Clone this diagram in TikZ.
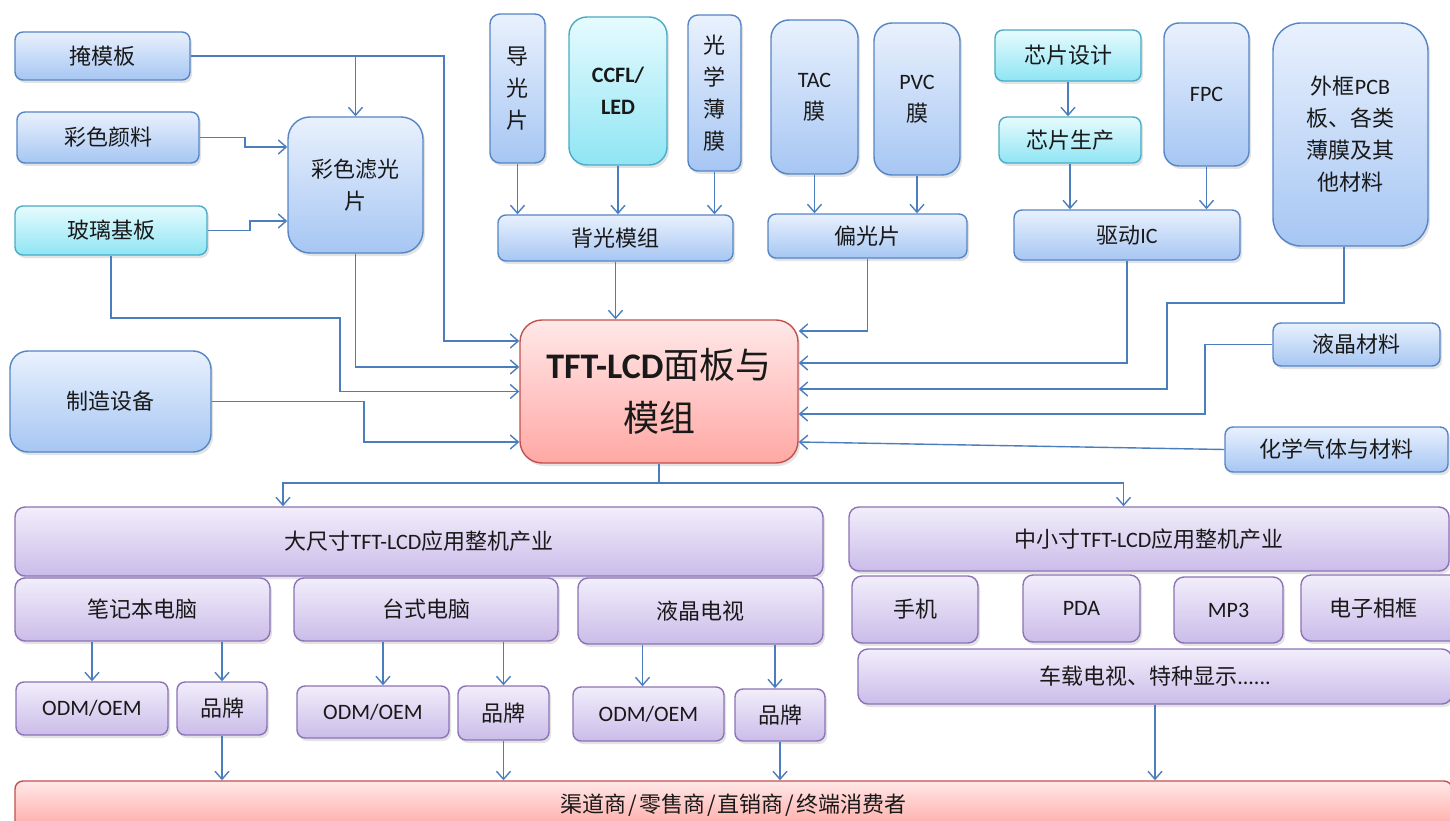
\documentclass[tikz,border=0pt]{standalone}
\usepackage{fontspec}
\setmainfont{Carlito}
\newfontfamily\cjk{Noto Sans CJK SC}
\newfontfamily\lat{Carlito}
\usetikzlibrary{arrows.meta,shadows}
\definecolor{btop}{HTML}{E9F1FD}
\definecolor{bbot}{HTML}{A6C6F3}
\definecolor{bbord}{HTML}{5585C5}
\definecolor{ctop}{HTML}{E6FBFE}
\definecolor{cbot}{HTML}{8FE5F4}
\definecolor{cbord}{HTML}{4AABC5}
\definecolor{ptop}{HTML}{F2EEFB}
\definecolor{pbot}{HTML}{CABCE9}
\definecolor{pbord}{HTML}{8B73B5}
\definecolor{rtop}{HTML}{FFE8E8}
\definecolor{rbot}{HTML}{FFA8A4}
\definecolor{rbord}{HTML}{C4504D}
\definecolor{arrc}{HTML}{4A7EBF}
\newcommand\mkbox[7]{%
  \pgfmathsetmacro\mybxc{(#3+#5)/2}%
  \pgfmathsetmacro\mybyc{(#4+#6)/2}%
  \pgfmathsetmacro\mybw{#5-#3}%
  \pgfmathsetmacro\mybh{#6-#4}%
  \node[#1, minimum width=\mybw pt, minimum height=\mybh pt] (#2) at (\mybxc,\mybyc) {#7};}
\newcommand\mysl{\hspace{2pt}/\hspace{2pt}}
\tikzset{
  boxbase/.style={rounded corners=8pt, line width=1.4pt, inner sep=0pt, align=center,
    text=black!90, font=\cjk\fontsize{22}{32}\selectfont,
    drop shadow={opacity=0.22, shadow xshift=2pt, shadow yshift=-3pt}},
  bluebox/.style={boxbase, draw=bbord, top color=btop, bottom color=bbot},
  cyanbox/.style={boxbase, draw=cbord, top color=ctop, bottom color=cbot},
  purplebox/.style={boxbase, draw=pbord, top color=ptop, bottom color=pbot},
  redbox/.style={boxbase, draw=rbord, top color=rtop, bottom color=rbot},
  conn/.style={draw=arrc, line width=1.4pt},
  arr/.style={conn, -{Straight Barb[length=8pt,width=14pt]}},
}
\begin{document}
\begin{tikzpicture}[x=1pt,y=-1pt]
\fill[white] (0,0) rectangle (1450,821);
\useasboundingbox (0,0) rectangle (1450,821);
% ---------- top left
\mkbox{bluebox}{mask}{15}{32}{190}{80}{掩模板}
\mkbox{bluebox}{pig}{17}{112}{199}{163}{彩色颜料}
\mkbox{cyanbox}{glass}{15}{206}{207}{255}{玻璃基板}
\mkbox{bluebox,rounded corners=22pt}{cf}{288}{117}{423}{253}{彩色滤光\\片}
\mkbox{bluebox,rounded corners=18pt}{equip}{10}{351}{211}{452}{制造设备}
% ---------- top middle
\mkbox{bluebox,rounded corners=10pt}{lg}{490}{14}{545}{163}{导\\光\\片}
\mkbox{cyanbox,rounded corners=18pt}{ccfl}{569}{17}{667}{165}{{\lat\bfseries CCFL/}\\{\lat\bfseries LED}}
\mkbox{bluebox,rounded corners=10pt}{of}{688}{15}{741}{171}{光\\学\\薄\\膜}
\mkbox{bluebox,rounded corners=18pt}{tac}{771}{20}{858}{174}{{\lat TAC}\\膜}
\mkbox{bluebox,rounded corners=18pt}{pvc}{874}{23}{960}{175}{{\lat PVC}\\膜}
\mkbox{bluebox}{bl}{498}{215}{733}{261}{背光模组}
\mkbox{bluebox}{pol}{768}{214}{967}{258}{偏光片}
% ---------- top right
\mkbox{cyanbox}{cd}{995}{30}{1141}{81}{芯片设计}
\mkbox{cyanbox}{cp}{999}{117}{1141}{163}{芯片生产}
\mkbox{bluebox,rounded corners=15pt}{fpc}{1164}{23}{1249}{166}{{\lat FPC}}
\mkbox{bluebox}{ic}{1014}{210}{1240}{260}{驱动{\lat IC}}
\mkbox{bluebox,rounded corners=28pt}{frame}{1273}{23}{1428}{246}{外框{\lat PCB}\\板、各类\\薄膜及其\\他材料}
\mkbox{bluebox}{lc}{1273}{323}{1440}{366}{液晶材料}
\mkbox{bluebox}{chem}{1225}{427}{1448}{472}{化学气体与材料}
% ---------- centre
\mkbox{redbox,rounded corners=22pt,font=\cjk\fontsize{36}{53}\selectfont}{tft}{520}{320}{798}{463}{{\lat\bfseries TFT-LCD}面板与\\模组}
% ---------- lower left
\mkbox{purplebox,rounded corners=10pt}{big}{15}{507}{823}{576}{大尺寸{\lat TFT-LCD}应用整机产业}
\mkbox{purplebox,rounded corners=10pt}{nb}{15}{578}{270}{641}{笔记本电脑}
\mkbox{purplebox,rounded corners=10pt}{dt}{294}{578}{558}{641}{台式电脑}
\mkbox{purplebox,rounded corners=10pt}{tv}{578}{578}{823}{644}{液晶电视}
\mkbox{purplebox}{odm1}{16}{682}{168}{735}{{\lat ODM/OEM}}
\mkbox{purplebox}{br1}{177}{682}{267}{735}{品牌}
\mkbox{purplebox}{odm2}{297}{686}{449}{738}{{\lat ODM/OEM}}
\mkbox{purplebox}{br2}{458}{686}{549}{740}{品牌}
\mkbox{purplebox}{odm3}{573}{687}{724}{741}{{\lat ODM/OEM}}
\mkbox{purplebox}{br3}{735}{689}{825}{741}{品牌}
% ---------- lower right
\mkbox{purplebox,rounded corners=10pt}{small}{849}{507}{1449}{571}{中小寸{\lat TFT-LCD}应用整机产业}
\mkbox{purplebox,rounded corners=10pt}{phone}{852}{576}{978}{643}{手机}
\mkbox{purplebox,rounded corners=10pt}{pda}{1023}{575}{1140}{642}{{\lat PDA}}
\mkbox{purplebox,rounded corners=10pt}{mp}{1174}{577}{1283}{643}{{\lat MP3}}
\mkbox{purplebox,rounded corners=10pt}{photo}{1301}{575}{1470}{641}{\hspace*{-24pt}电子相框}
\mkbox{purplebox,rounded corners=10pt}{car}{858}{649}{1452}{704}{车载电视、特种显示{\lat ......}}
% ---------- bottom
\mkbox{redbox}{chan}{15}{781}{1452}{830}{\raisebox{-8pt}{渠道商\mysl 零售商\mysl 直销商\mysl 终端消费者}}
% ---------- connectors, left side
\draw[arr] (mask.east -| cf.north) -- (cf.north);
\draw[arr] (mask.east) -- (444,56) -- (444,341) -- ([yshift=50.5pt]tft.west);
\draw[arr] (pig.east) -- (245,137.5) -- (245,147) -- ([yshift=38pt]cf.west);
\draw[arr] (glass.east) -- (250,230.5) -- (250,221) -- ([yshift=-36pt]cf.west);
\draw[arr] (glass.south) -- (111,318) -- (340,318) -- (340,391.5) -- (tft.west);
\draw[arr] (cf.south) -- (355.5,367) -- ([yshift=24.5pt]tft.west);
\draw[arr] (equip.east) -- (364,401.5) -- (364,442) -- ([yshift=-50.5pt]tft.west);
% ---------- top
\draw[arr] (lg.south) -- (lg.south |- bl.north);
\draw[arr] (ccfl.south) -- (ccfl.south |- bl.north);
\draw[arr] (of.south) -- (of.south |- bl.north);
\draw[arr] (bl.south) -- (bl.south |- tft.north);
\draw[arr] (tac.south) -- (tac.south |- pol.north);
\draw[arr] (pvc.south) -- (pvc.south |- pol.north);
\draw[arr] (pol.south) -- (867.5,331) -- ([yshift=60.5pt]tft.east);
\draw[arr] (cd.south) -- (cd.south |- cp.north);
\draw[arr] (cp.south) -- (cp.south |- ic.north);
\draw[arr] (fpc.south) -- (fpc.south |- ic.north);
% ---------- right side
\draw[arr] (ic.south) -- (1127,363) -- ([yshift=28.5pt]tft.east);
\draw[arr] ([xshift=-6.5pt]frame.south) -- (1344,303) -- (1167,303) -- (1167,389) -- ([yshift=2.5pt]tft.east);
\draw[arr] (lc.west) -- (1205,344.5) -- (1205,414) -- ([yshift=-22.5pt]tft.east);
\draw[arr] (chem.west) -- ([yshift=-50.5pt]tft.east);
% ---------- bottom distribution
\coordinate (split) at (659,483);
\draw[conn] (tft.south) -- (split);
\draw[arr] (split) -| ([xshift=-136pt]big.north);
\draw[arr] (split) -| ([xshift=-25.5pt]small.north);
\draw[arr] (odm1.north |- nb.south) -- (odm1.north);
\draw[arr] (br1.north |- nb.south) -- (br1.north);
\draw[arr] ([xshift=10pt]odm2.north |- dt.south) -- ([xshift=10pt]odm2.north);
\draw[arr] (br2.north |- dt.south) -- (br2.north);
\draw[arr] ([xshift=-6pt]odm3.north |- tv.south) -- ([xshift=-6pt]odm3.north);
\draw[arr] ([xshift=-5pt]br3.north |- tv.south) -- ([xshift=-5pt]br3.north);
\draw[arr] (br1.south) -- (br1.south |- chan.north);
\draw[arr] (br2.south) -- (br2.south |- chan.north);
\draw[arr] (br3.south) -- (br3.south |- chan.north);
\draw[arr] (car.south) -- (car.south |- chan.north);
\end{tikzpicture}
\end{document}
